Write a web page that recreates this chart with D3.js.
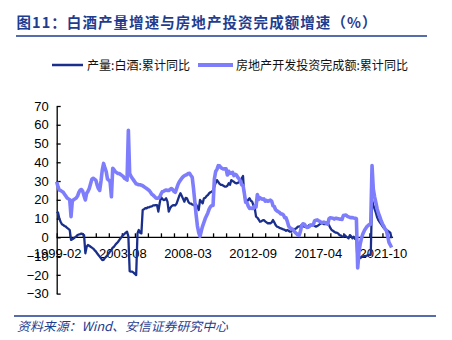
<!DOCTYPE html>
<html><head><meta charset="utf-8">
<script src="https://cdn.jsdelivr.net/npm/d3@7"></script>
<style>
html,body{margin:0;padding:0;background:#fff;}
svg{display:block;}
</style></head>
<body>
<svg id="chart" width="452" height="340"></svg>
<script>
// ---------- DATA ----------
const titleText = "图11：白酒产量增速与房地产投资完成额增速（%）";
const sourceText = "资料来源：Wind、安信证券研究中心";
const seriesNames = ["产量:白酒:累计同比", "房地产开发投资完成额:累计同比"];
const xTickLabels = ["1999-02", "2003-08", "2008-03", "2012-09", "2017-04", "2021-10"];
const yTicks = [-30, -20, -10, 0, 10, 20, 30, 40, 50, 60, 70];

// monthly categories (cumulative data, no January), 1999-02 .. 2022-06
const months = [];
for (let y = 1999; y <= 2022; y++) {
  for (let m = 2; m <= 12; m++) {
    if (y === 2022 && m > 6) break;
    months.push(y + "-" + String(m).padStart(2, "0"));
  }
}

// 产量:白酒:累计同比 (each row = Feb..Dec of one year)
const baijiu = [
  12.8, 13.3, 10, 8.3, 7, 6.6, 6, 5.7, 5, 4.5, 3.9,          // 1999
  -1.4, -1, -0.6, 0, 0.5, 1.2, 1.5, 1.7, 2, 1.7, 1.2,         // 2000
  -8.5, -5, -4.1, -4.5, -5, -5.5, -6, -6.8, -7.5, -8.5, -9.4, // 2001
  -10.3, -11.2, -12.1, -12, -11, -10.3, -9.5, -8.5, -7.5, -6.8, -5.5, // 2002
  -5, -4, -3.2, -2.5, -1.5, -0.5, 0.3, 1.2, 1.8, 2.5, 3,      // 2003
  0.5, -18, -18.3, -18.3, -18.8, -19.5, -20.1, 2.1, 3.9, 2.5, 2.1, // 2004
  14.6, 15, 15.5, 15.5, 16, 16, 16.4, 16.5, 17, 17, 17.2,     // 2005
  17.2, 13.7, 18, 21.6, 20.5, 19.9, 20, 20.8, 19, 13.7, 15.5, // 2006
  16.5, 17, 17.2, 17, 18, 20, 22, 23.5, 22, 20.5, 19,         // 2007
  21, 20.8, 19, 18.1, 18, 17.5, 17.2, 17, 17.5, 16, 14.6,     // 2008
  19.9, 19, 18.1, 20.8, 21, 22, 22.5, 23.5, 24, 24.3, 25,     // 2009
  27, 29, 30.5, 29.5, 28.5, 28, 27.9, 27.5, 27, 27, 27.5,     // 2010
  28.8, 28, 30.5, 30, 29.6, 29, 28.8, 29, 29.6, 30, 31.5,     // 2011
  32.7, 22, 19.9, 19, 20, 20.8, 19.5, 19, 17, 15.5, 11,       // 2012
  10.5, 9.5, 8.3, 8.5, 9, 9.2, 8.5, 8, 7.5, 7.5, 7.5,         // 2013
  8, 9.2, 8, 6.6, 5.7, 5.5, 5, 4.8, 4.5, 4.2, 4,              // 2014
  3.5, 3.9, 3.5, 3, 3, 3.9, 3.9, 4.5, 4.8, 5.7, 5.7,          // 2015
  6, 6.6, 6, 5.7, 5.5, 5.5, 6, 6.6, 6.6, 6.5, 6.6,            // 2016
  6, 5.7, 6, 6.5, 7, 7.5, 7.5, 7, 7, 7.2, 7.5,                // 2017
  6.5, 5, 3.9, 3.5, 3, 2.5, 2.5, 2.1, 1.2, 1, 0.5,            // 2018
  0.3, 1.2, 0.5, 0, -0.5, 1.2, 0.5, -0.5, 0.3, -0.8, -0.5,    // 2019
  -14.8, -10.3, -11, -10.5, -10.3, -10, -10, -9.8, -9.5, -9.4, -9.4, // 2020
  20, 17, 15, 13, 10.5, 9, 8, 7, 6, 5, 4.5,                   // 2021
  4, 3.5, 3, 2.5, -0.5                                        // 2022
];

// 房地产开发投资完成额:累计同比
const estate = [
  29.6, 27, 25.2, 25, 24.5, 24, 23, 22, 21, 20.5, 20,         // 1999
  11, 19.5, 20, 20.5, 21, 22, 24, 25.2, 25.5, 24.5, 22,       // 2000
  19.9, 23.5, 24.5, 26, 28.5, 31, 31.5, 31, 30.5, 28, 26,     // 2001
  25, 30, 36, 39.4, 37, 35, 31, 30.5, 29.5, 21.6, 36.8,       // 2002
  36, 35, 34.5, 34, 34, 33.5, 33, 32.5, 31.5, 31, 30.5,       // 2003
  57, 34, 32.5, 31.5, 30.5, 29.5, 28.5, 28.3, 28, 28, 27.8,   // 2004
  27.5, 27, 26.5, 26, 25.5, 25, 24, 23, 22.5, 21.8, 21,       // 2005
  20.8, 21, 21.5, 23, 24.3, 24.5, 25, 25.2, 25, 25, 25.5,     // 2006
  26, 25.5, 24.5, 24, 26, 28, 29.5, 30.5, 31.5, 32.3, 32.8,   // 2007
  33.2, 33.5, 34, 34.1, 33, 32, 26, 19, 12, 6, 2.5,           // 2008
  0.5, 3.5, 6, 8, 10, 11.5, 13, 15, 16.3, 17, 17,             // 2009
  31.1, 35.1, 36.2, 38.2, 38.1, 37.2, 36.7, 36.4, 36.5, 36.5, 33.2, // 2010
  35.2, 34.1, 34.3, 34.6, 32.9, 33.6, 33.2, 32.0, 31.1, 29.9, 27.9, // 2011
  27.8, 23.5, 18.7, 18.5, 16.6, 15.4, 15.6, 15.4, 15.4, 16.7, 16.2, // 2012
  22.8, 20.2, 21.1, 20.6, 20.3, 20.5, 19.3, 19.7, 19.2, 19.5, 19.8, // 2013
  19.3, 16.8, 16.4, 14.7, 14.1, 13.7, 13.2, 12.5, 12.4, 11.9, 10.5, // 2014
  10.4, 8.5, 6.0, 5.1, 4.6, 4.3, 3.5, 2.6, 2.0, 1.3, 1.0,     // 2015
  3.0, 6.2, 7.2, 7.0, 6.1, 5.3, 5.4, 5.8, 6.6, 6.5, 6.9,      // 2016
  8.9, 9.1, 9.3, 8.8, 8.5, 7.9, 7.9, 8.1, 7.8, 7.5, 7.0,      // 2017
  9.9, 10.4, 10.3, 10.2, 9.7, 10.2, 10.1, 9.9, 9.7, 9.7, 9.5, // 2018
  11.6, 11.8, 11.9, 11.2, 10.9, 10.6, 10.5, 10.5, 10.3, 10.2, 9.9, // 2019
  -16.3, -7.7, -3.3, -0.3, 1.9, 3.4, 4.6, 5.6, 6.3, 6.8, 7.0, // 2020
  38.3, 25.6, 21.6, 18.3, 15.0, 12.7, 10.9, 8.8, 7.2, 6.0, 4.4, // 2021
  3.7, 0.7, -2.7, -4.0, -5.4                                  // 2022
];

// ---------- CHART ----------
const navy = "#1f3d8f";
const darkColor = "#1a2f8c";
const lightColor = "#7e7efc";
const svg = d3.select("#chart");
svg.append("rect").attr("width", 452).attr("height", 340).attr("fill", "#fff");

// title + rules
svg.append("text").attr("x", 16.5).attr("y", 27.5)
  .attr("font-family", "'Noto Sans CJK SC', sans-serif").attr("font-weight", "bold")
  .attr("font-size", 14.5).attr("fill", navy)
  .attr("textLength", 360).attr("lengthAdjust", "spacing")
  .text(titleText);
svg.append("line").attr("x1", 16).attr("x2", 427).attr("y1", 36).attr("y2", 36)
  .attr("stroke", navy).attr("stroke-width", 1.3);
svg.append("line").attr("x1", 14).attr("x2", 436).attr("y1", 316).attr("y2", 316)
  .attr("stroke", navy).attr("stroke-width", 1.3);
svg.append("text").attr("x", 17).attr("y", 331)
  .attr("font-family", "'Noto Sans CJK SC', sans-serif").attr("font-style", "italic")
  .attr("font-size", 12.5).attr("fill", navy)
  .attr("textLength", 211).attr("lengthAdjust", "spacingAndGlyphs")
  .text(sourceText);

// scales
const x = d3.scalePoint().domain(months).range([56.7, 56.7 + 1.303 * (months.length - 1)]);
const y = d3.scaleLinear().domain([-30, 70]).range([293.6, 106]);

// y axis
const yAxis = d3.axisLeft(y).tickValues(yTicks).tickSizeInner(-4).tickSizeOuter(0).tickPadding(8)
  .tickFormat(d3.format("d"));
const gy = svg.append("g").attr("transform", "translate(56.7,0)").call(yAxis);
gy.select(".domain").attr("stroke", "#000").attr("stroke-width", 1.3);
gy.selectAll(".tick line").attr("stroke", "#000").attr("stroke-width", 1.3);
gy.selectAll(".tick text").attr("font-family", "'Liberation Sans', Arial, sans-serif")
  .attr("font-size", 13).attr("fill", "#000");

// x axis at 0
const xEnd = x(months[months.length - 1]) + 1.5;
const tickMonths = months.filter((d, i) => i % 10 === 0);
const xAxis = d3.axisBottom(x).tickValues(tickMonths).tickSizeInner(-4).tickSizeOuter(0).tickFormat("");
const gx = svg.append("g").attr("transform", `translate(0,${y(0)})`).call(xAxis);
gx.select(".domain").attr("d", `M56.7,0H${xEnd}`).attr("stroke", "#000").attr("stroke-width", 1.3);
gx.selectAll(".tick line").attr("stroke", "#000").attr("stroke-width", 1.3);
svg.append("g").selectAll("text").data(xTickLabels).join("text")
  .attr("x", d => x(d) + 1).attr("y", 258)
  .attr("text-anchor", "middle")
  .attr("font-family", "'Liberation Sans', Arial, sans-serif").attr("font-size", 13).attr("fill", "#000")
  .text(d => d);

// lines
const line = arr => d3.line().x((d, i) => x(months[i])).y(d => y(d))(arr);
svg.append("path").attr("d", line(baijiu)).attr("fill", "none")
  .attr("stroke", darkColor).attr("stroke-width", 2.3).attr("stroke-linejoin", "round");
svg.append("path").attr("d", line(estate)).attr("fill", "none")
  .attr("stroke", lightColor).attr("stroke-width", 3.6).attr("stroke-linejoin", "round");

// legend
const lg = svg.append("g");
lg.append("line").attr("x1", 52).attr("x2", 83).attr("y1", 65).attr("y2", 65)
  .attr("stroke", darkColor).attr("stroke-width", 2.5);
lg.append("text").attr("x", 87).attr("y", 69.5)
  .attr("font-family", "'Noto Sans CJK SC', sans-serif").attr("font-size", 12.5).attr("fill", "#111")
  .attr("textLength", 103).attr("lengthAdjust", "spacingAndGlyphs")
  .text(seriesNames[0]);
lg.append("line").attr("x1", 198).attr("x2", 233).attr("y1", 65).attr("y2", 65)
  .attr("stroke", lightColor).attr("stroke-width", 4);
lg.append("text").attr("x", 236).attr("y", 69.5)
  .attr("font-family", "'Noto Sans CJK SC', sans-serif").attr("font-size", 12.5).attr("fill", "#111")
  .attr("textLength", 172).attr("lengthAdjust", "spacingAndGlyphs")
  .text(seriesNames[1]);
</script>
</body></html>
